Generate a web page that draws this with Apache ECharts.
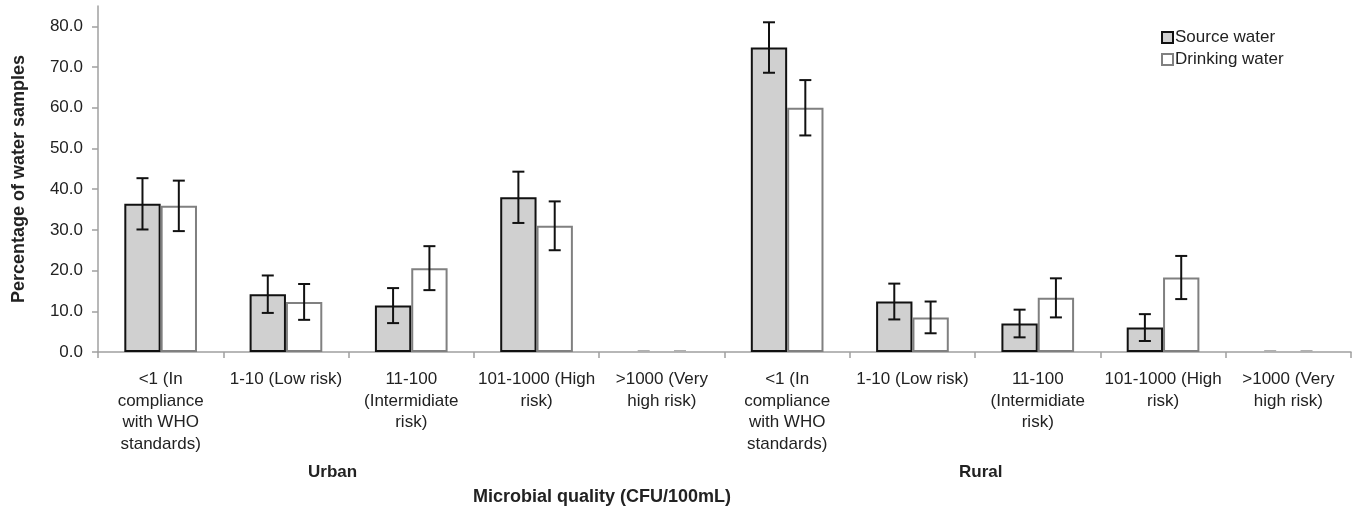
<!DOCTYPE html>
<html><head><meta charset="utf-8">
<script src="https://cdn.jsdelivr.net/npm/echarts@6/dist/echarts.min.js"></script>
<style>html,body{margin:0;padding:0;background:#fff}#c{width:1357px;height:509px}</style>
</head><body><div id="c"></div>
<script>
const categories = ['U1','U2','U3','U4','U5','R1','R2','R3','R4','R5'];
const categoryLabels = [
  '<1 (In\ncompliance\nwith WHO\nstandards)', '1-10 (Low risk)', '11-100\n(Intermidiate\nrisk)', '101-1000 (High\nrisk)', '>1000 (Very\nhigh risk)',
  '<1 (In\ncompliance\nwith WHO\nstandards)', '1-10 (Low risk)', '11-100\n(Intermidiate\nrisk)', '101-1000 (High\nrisk)', '>1000 (Very\nhigh risk)'
];
const groups = ['Urban', 'Rural'];
const sourceWater = [36.4, 14.2, 11.4, 38.0, 0, 74.8, 12.4, 7.0, 6.0, 0];
const sourceErr   = [6.3, 4.6, 4.3, 6.3, 0, 6.2, 4.4, 3.4, 3.3, 0];
const drinkingWater = [35.9, 12.3, 20.6, 31.0, 0, 60.0, 8.5, 13.3, 18.3, 0];
const drinkingErr   = [6.2, 4.4, 5.4, 6.0, 0, 6.8, 3.9, 4.8, 5.3, 0];
const yTicks = [0, 10, 20, 30, 40, 50, 60, 70, 80];

const FONT = '"Liberation Sans", Arial, sans-serif';
const GAP = 0.42;
const chart = echarts.init(document.getElementById('c'));

function errSeries(name, vals, errs, side) {
  return {
    type: 'custom', name: name + ' err', silent: true, z: 5,
    data: vals.map((v, i) => [i, v, errs[i]]),
    renderItem(params, api) {
      const e = api.value(2);
      const idx = api.value(0), v = api.value(1);
      const c = api.coord([idx, v]);
      const band = api.size([1, 0])[0];
      const barW = band * (1 - GAP) / 2;
      const x = c[0] + side * barW / 2;
      const cap = 6;
      if (!e) {
        return { type: 'line', shape: { x1: x - cap, y1: c[1] - 1, x2: x + cap, y2: c[1] - 1 },
          style: { stroke: '#b0b0b0', lineWidth: 2 } };
      }
      const hi = api.coord([idx, v + e])[1];
      const lo = api.coord([idx, v - e])[1];
      const st = { stroke: '#111', lineWidth: 2 };
      return { type: 'group', children: [
        { type: 'line', shape: { x1: x, y1: hi, x2: x, y2: lo }, style: st },
        { type: 'line', shape: { x1: x - cap, y1: hi, x2: x + cap, y2: hi }, style: st },
        { type: 'line', shape: { x1: x - cap, y1: lo, x2: x + cap, y2: lo }, style: st }
      ]};
    }
  };
}

function barData(vals) {
  return vals.map(v => v === 0 ? { value: 0, itemStyle: { borderWidth: 0, opacity: 0 } } : v);
}

chart.setOption({
  animation: false,
  textStyle: { fontFamily: FONT },
  grid: { left: 98, right: 6, top: 6, bottom: 157, containLabel: false },
  legend: {
    orient: 'vertical', left: 1161, top: 29, padding: 0, itemGap: 5,
    itemWidth: 11, itemHeight: 11, icon: 'rect',
    data: ['Source water', 'Drinking water'],
    textStyle: { fontSize: 17, color: '#222', fontFamily: FONT, padding: [0, 0, 0, -3] }
  },
  xAxis: {
    type: 'category', data: categories,
    axisLine: { lineStyle: { color: '#a0a0a0', width: 1.5 } },
    axisTick: { show: true, length: 6, lineStyle: { color: '#a0a0a0', width: 1.5 } },
    axisLabel: {
      interval: 0, margin: 17, color: '#222', fontSize: 17, lineHeight: 21.5, fontFamily: FONT,
      formatter: (v, i) => categoryLabels[i]
    }
  },
  yAxis: {
    type: 'value', min: 0, max: 85, interval: 10,
    name: 'Percentage of water samples', nameLocation: 'middle', nameGap: 70,
    nameTextStyle: { fontSize: 18, fontWeight: 'bold', color: '#222', fontFamily: FONT },
    splitLine: { show: false },
    axisLine: { show: true, lineStyle: { color: '#a0a0a0', width: 1.5 } },
    axisTick: { show: true, length: 6, customValues: yTicks, lineStyle: { color: '#a0a0a0', width: 1.5 } },
    axisLabel: { customValues: yTicks, margin: 15, color: '#222', fontSize: 17, fontFamily: FONT,
      formatter: v => v.toFixed(1) }
  },
  series: [
    { type: 'bar', name: 'Source water', data: barData(sourceWater), barGap: 0, barCategoryGap: (GAP * 100) + '%',
      itemStyle: { color: '#d0d0d0', borderColor: '#111', borderWidth: 2 } },
    { type: 'bar', name: 'Drinking water', data: barData(drinkingWater),
      itemStyle: { color: '#ffffff', borderColor: '#808080', borderWidth: 2 } },
    errSeries('Source water', sourceWater, sourceErr, -1),
    errSeries('Drinking water', drinkingWater, drinkingErr, 1)
  ],
  graphic: [
    { type: 'text', left: 308, top: 464, style: { text: groups[0], font: 'bold 17px ' + FONT, fill: '#222' } },
    { type: 'text', left: 959, top: 464, style: { text: groups[1], font: 'bold 17px ' + FONT, fill: '#222' } },
    { type: 'text', left: 473, top: 488, style: { text: 'Microbial quality (CFU/100mL)', font: 'bold 18px ' + FONT, fill: '#222' } }
  ]
});
</script></body></html>
